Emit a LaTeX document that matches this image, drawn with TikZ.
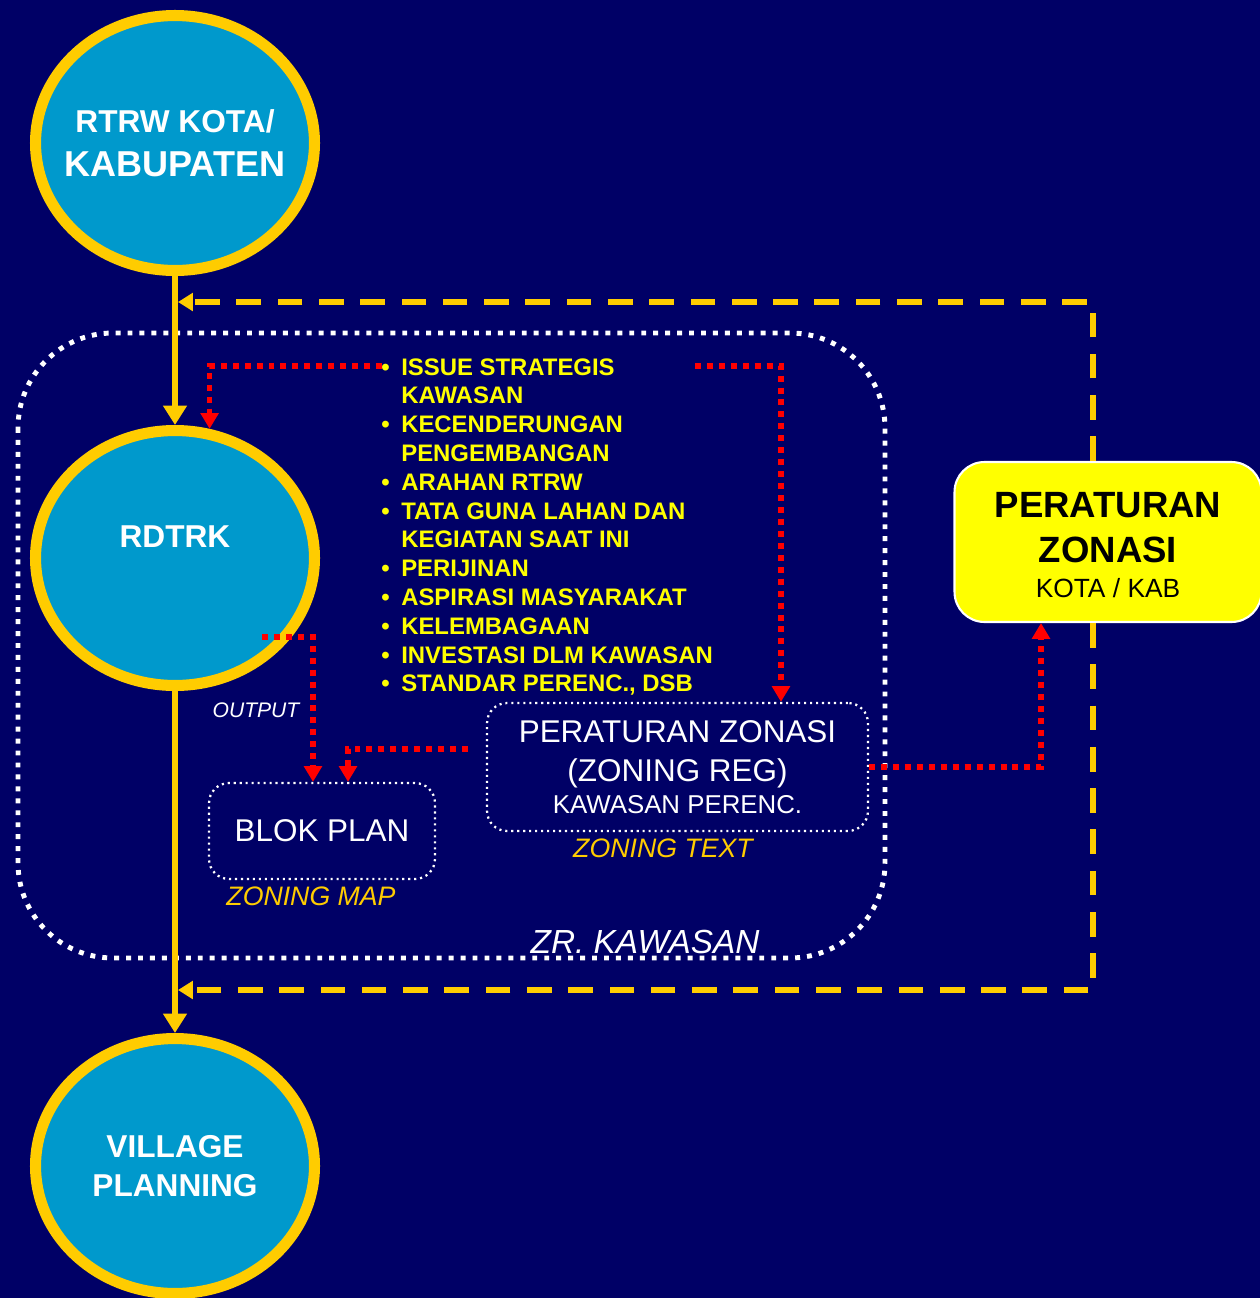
\documentclass[tikz,border=0pt]{standalone}
\usepackage{fontspec}
\setmainfont{Liberation Sans}
\usepackage{tikz}
\usetikzlibrary{calc,positioning,shapes.geometric,arrows.meta}
\definecolor{navybg}{HTML}{000066}
\definecolor{planblue}{HTML}{0099CC}
\definecolor{ringgold}{HTML}{FFCC00}
\definecolor{listyellow}{HTML}{FFFF00}
\definecolor{linkred}{HTML}{FF0000}

\tikzset{
  planring/.style={ellipse, draw=ringgold, line width=6.3pt, fill=planblue,
    minimum width=5.58cm, minimum height=5.1cm, inner sep=0pt, text=white, align=center,
    font=\bfseries\fontsize{18}{22.2}\selectfont},
  ringtext/.style={text=white, inner sep=0pt, align=center, font=\bfseries\fontsize{18}{22.2}\selectfont},
  flowline/.style={ringgold, line width=3.4pt, -{Triangle[width=13pt,length=11pt]}},
  loopline/.style={ringgold, line width=3pt, dash pattern=on 14pt off 9.5pt,
    -{Triangle[width=10pt,length=8.5pt]}},
  redlink/.style={linkred, line width=3.2pt, dash pattern=on 3.4pt off 3.4pt,
    -{Triangle[width=10pt,length=9pt]}},
  dotbox/.style={draw=white, line width=1.3pt, dash pattern=on 1.2pt off 2.2pt,
    rounded corners=0.4cm, text=white, align=center},
  tagtext/.style={font=\itshape\fontsize{15.2}{18}\selectfont, text=ringgold, inner sep=0pt},
}

\begin{document}
\begin{tikzpicture}[x=0.02cm,y=-0.02cm]
  \useasboundingbox (0,0) rectangle (1260,1298);
  \clip (0,0) rectangle (1260,1298);
  \fill[navybg] (0,0) rectangle (1260,1298);

  % kawasan frame
  \draw[white, line width=2.8pt, dash pattern=on 2.8pt off 4pt, rounded corners=1.9cm]
    (18,333) rectangle (885,958);
  \node[text=white, inner sep=0pt, font=\itshape\fontsize{19}{22}\selectfont] (zrlabel) at (645,942) {ZR. KAWASAN};

  % plans
  \node[planring] (rtrw) at (175,143) {};
  \node[ringtext] (rtrwtext) at (rtrw.center) {RTRW KOTA/\\[2.6pt]{\fontsize{20.5}{24}\selectfont KABUPATEN}};
  \node[planring] (rdtrk) at (175,558) {};
  \node[ringtext] (rdtrktext) at ([yshift=0.42cm]rdtrk.center) {RDTRK};
  \node[planring] (village) at (175,1166) {VILLAGE\\PLANNING};

  % peraturan zonasi kota
  \node[draw=white, line width=1.2pt, fill=listyellow, rounded corners=0.6cm,
    minimum width=6.14cm, minimum height=3.2cm, align=center, text=black,
    font=\bfseries\fontsize{20.8}{25.6}\selectfont] (pz) at (1108,542)
    {\rule{0pt}{18pt}PERATURAN\\ZONASI\\[-6pt]{\mdseries\fontsize{15}{18}\selectfont KOTA / KAB}};

  % feedback loop
  \coordinate (looptop) at (1093,302);
  \coordinate (loopbot) at (1093,990);
  \draw[loopline] ([xshift=-0.3cm]pz.north) |- ($(rtrw.south |- looptop)+(3,0)$);
  \draw[loopline] ([xshift=-0.3cm]pz.south) |- ($(rtrw.south |- loopbot)+(3,0)$);

  \draw[flowline] (rtrw) -- (rdtrk);
  \draw[flowline] (rdtrk) -- (village);

  % inputs
  \node[anchor=base west, text=listyellow, inner sep=0pt,
    font=\bfseries\fontsize{13.6}{16.4}\selectfont] (issues) at (381,375)
    {\begin{tabular}[t]{@{}l@{\hspace{6.6pt}}l@{}}
      \textbullet & ISSUE STRATEGIS\\
                  & KAWASAN\\
      \textbullet & KECENDERUNGAN\\
                  & PENGEMBANGAN\\
      \textbullet & ARAHAN RTRW\\
      \textbullet & TATA GUNA LAHAN DAN\\
                  & KEGIATAN SAAT INI\\
      \textbullet & PERIJINAN\\
      \textbullet & ASPIRASI MASYARAKAT\\
      \textbullet & KELEMBAGAAN\\
      \textbullet & INVESTASI DLM KAWASAN\\
      \textbullet & STANDAR PERENC., DSB
    \end{tabular}};

  % outputs
  \node[dotbox, minimum width=4.52cm, minimum height=1.92cm,
    font=\fontsize{17.9}{22}\selectfont] (blok) at (322,831) {BLOK PLAN};
  \node[tagtext] (zonmap) at (311,896) {ZONING MAP};
  \node[dotbox, minimum width=7.62cm, minimum height=2.56cm,
    font=\fontsize{17.9}{22.2}\selectfont] (zonreg) at (677.5,767)
    {PERATURAN ZONASI\\(ZONING REG)\\[-4pt]{\fontsize{14.7}{18}\selectfont KAWASAN PERENC.}};
  \node[tagtext] (zontext) at (663,848) {ZONING TEXT};
  \node[text=white, inner sep=0pt, font=\itshape\fontsize{12}{14}\selectfont] (output) at (256,710) {OUTPUT};

  % red links
  \coordinate (issuetip) at (382,366);
  \coordinate (issueend) at (695,366);
  \coordinate (rdtrkout) at (262,637);
  \coordinate (zonregfeed) at (468,749);
  \draw[redlink] (issuetip) -| (rdtrk.75.7);
  \draw[redlink] (issueend) -| ([xshift=2.07cm]zonreg.north);
  \draw[redlink] (rdtrkout) -| ([xshift=-0.18cm]blok.north);
  \draw[redlink] (zonregfeed) -| ([xshift=0.52cm]blok.north);
  \draw[redlink] (zonreg.east) -| ([xshift=-1.34cm]pz.south);
\end{tikzpicture}
\end{document}
